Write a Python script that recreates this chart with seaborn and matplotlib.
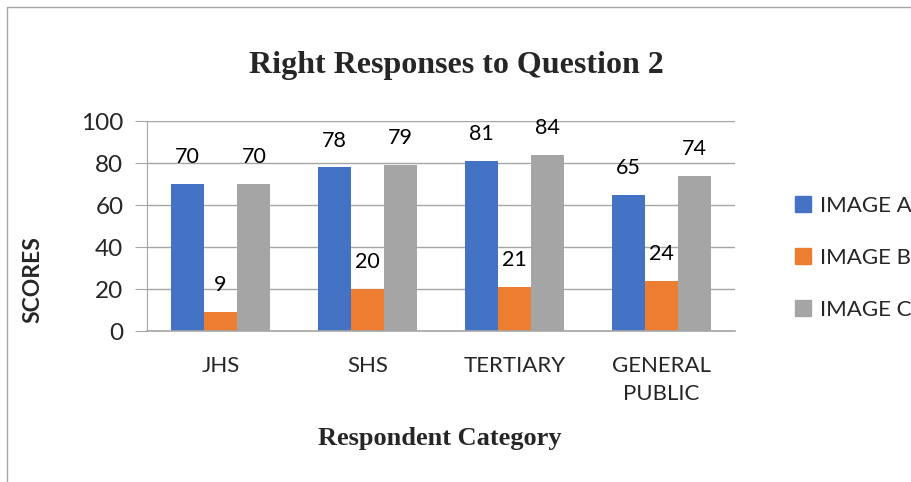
import pandas as pd
import matplotlib
matplotlib.use("Agg")
import matplotlib.pyplot as plt
import seaborn as sns
from matplotlib.lines import Line2D

# data
categories = ["JHS", "SHS", "TERTIARY", "GENERAL\nPUBLIC"]
series = ["IMAGE A", "IMAGE B", "IMAGE C"]
image_a = [70, 78, 81, 65]
image_b = [9, 20, 21, 24]
image_c = [70, 79, 84, 74]
colors = ["#4472C4", "#ED7D31", "#A5A5A5"]

rows = []
for name, vals in zip(series, [image_a, image_b, image_c]):
    for cat, v in zip(categories, vals):
        rows.append({"Category": cat, "Series": name, "Score": v})
df = pd.DataFrame(rows)

sns.set_style("white")
sans = ["Lato", "DejaVu Sans"]
serif = ["Liberation Serif", "DejaVu Serif"]
plt.rcParams["font.family"] = sans

fig = plt.figure(figsize=(9.12, 4.82), dpi=100)
ax = fig.add_axes([147 / 912, 151 / 482, 588 / 912, 210 / 482])

sns.barplot(data=df, x="Category", y="Score", hue="Series", order=categories,
            hue_order=series, palette=colors, width=0.68, gap=0,
            saturation=1, linewidth=0, ax=ax, legend=False)

# value labels above bars
for cont in ax.containers:
    ax.bar_label(cont, padding=12, fontsize=15.5, color="#000000", family=sans)

ax.set_ylim(0, 100)
ax.set_xlim(-0.5, 3.5)
ax.set_yticks([0, 20, 40, 60, 80, 100])
ax.yaxis.grid(True, color="#A6A6A6", linewidth=1)
ax.set_axisbelow(True)
for s in ["top", "right"]:
    ax.spines[s].set_visible(False)
ax.spines["left"].set_color("#A6A6A6")
ax.spines["bottom"].set_color("#A6A6A6")
ax.spines["bottom"].set_linewidth(1.2)
ax.tick_params(axis="y", length=9, color="#A6A6A6", labelsize=17.5, pad=8, left=True)
ax.tick_params(axis="x", length=0, labelsize=16, pad=18)
for lab in ax.get_xticklabels():
    lab.set_linespacing(1.5)
ax.set_xlabel("")
ax.set_ylabel("")

fig.text(0.5, 1 - 65 / 482, "Right Responses to Question 2", ha="center", va="center",
         fontsize=23, fontweight="bold", family=serif)
fig.text(440 / 912, 1 - 438 / 482, "Respondent Category", ha="center", va="center",
         fontsize=19, fontweight="bold", family=serif)
fig.text(33 / 912, 1 - 280 / 482, "SCORES", ha="center", va="center",
         rotation=90, fontsize=16.5, fontweight="bold", family=sans)

# legend
handles = [Line2D([0], [0], marker="s", linestyle="", markersize=11,
                  markerfacecolor=c, markeredgecolor=c) for c in colors]
fig.legend(handles, series, loc="center left", bbox_to_anchor=(783 / 912, 1 - 258 / 482),
           frameon=False, fontsize=16, labelspacing=1.45, handletextpad=0.25,
           handlelength=1.0, borderaxespad=0)

# frame around the chart
fig.add_artist(Line2D([7 / 912, 7 / 912], [0, 1 - 7 / 482], transform=fig.transFigure,
                      color="#A6A6A6", linewidth=1))
fig.add_artist(Line2D([7 / 912, 1], [1 - 7 / 482, 1 - 7 / 482], transform=fig.transFigure,
                      color="#A6A6A6", linewidth=1))

fig.savefig("out.png", dpi=100)
